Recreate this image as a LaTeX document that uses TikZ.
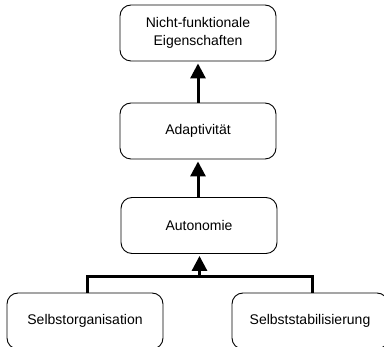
\documentclass[tikz,border=0pt]{standalone}
\usepackage{fontspec}
\setmainfont{Liberation Sans}
\usetikzlibrary{arrows.meta}
\begin{document}
\begin{tikzpicture}[x=1pt,y=-1pt,
  box/.style={draw=black,line width=0.9pt,rounded corners=11pt,minimum width=156pt,minimum height=56pt,inner sep=0pt,align=center,font=\fontsize{14pt}{18pt}\selectfont},
  arr/.style={line width=3pt,-{Triangle[length=15pt,width=15pt]},shorten >=2pt},
  conn/.style={line width=3pt,line join=miter}]
\useasboundingbox (0,0) rectangle (384,347);
\clip (0,0) rectangle (384,347);
\node[box] (n) at (198,33) {Nicht-funktionale\\Eigenschaften};
\node[box] (ad) at (198,131) {Adaptivität};
\node[box] (au) at (199,225.5) {Autonomie};
\node[box] (l) at (85,321) {Selbstorganisation};
\node[box] (r) at (310,321) {Selbststabilisierung};
\coordinate (j) at (199.5,277);
\draw[arr] (ad.north) -- (n.south);
\draw[arr] (au.north -| ad.north) -- (ad.south);
\draw[conn] ([xshift=2.5pt]l.north) |- (j) -| ([xshift=2.5pt]r.north);
\draw[arr] (j) -- (j |- au.south);
\end{tikzpicture}
\end{document}
